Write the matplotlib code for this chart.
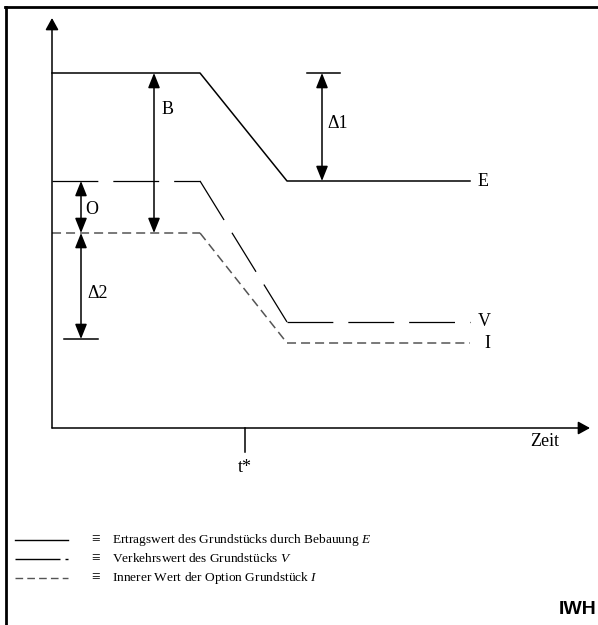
import matplotlib
matplotlib.use('Agg')
import matplotlib.pyplot as plt
from matplotlib.lines import Line2D

plt.rcParams['font.family'] = ['Liberation Serif', 'DejaVu Serif']
plt.rcParams['mathtext.fontset'] = 'custom'
plt.rcParams['mathtext.rm'] = 'Liberation Serif'
plt.rcParams['mathtext.it'] = 'Liberation Serif:italic'
plt.rcParams['lines.scale_dashes'] = False

# schematic values (time runs right from the value axis, value runs up)
t_knots = [0, 148, 235, 418]
E_vals = [355, 355, 247, 247]
V_vals = [247, 247, 106, 106]
I_vals = [195, 195, 85, 85]
t_star = 193
delta2_low = 89

legend_texts = ['Ertragswert des Grundstücks durch Bebauung $E$',
                'Verkehrswert des Grundstücks $V$',
                'Innerer Wert der Option Grundstück $I$']

fig = plt.figure(figsize=(5.98, 6.25), dpi=100)
ax = fig.add_axes([0, 0, 1, 1])
ax.set_xlim(-52, 546)
ax.set_ylim(-197, 428)
ax.axis('off')

# outer frame (top and left only)
fig.add_artist(Line2D([5 / 598, 1], [1 - 7 / 625, 1 - 7 / 625], transform=fig.transFigure, lw=2, color='black'))
fig.add_artist(Line2D([6 / 598, 6 / 598], [0, 1 - 7 / 625], transform=fig.transFigure, lw=2, color='black'))

axis_style = dict(arrowstyle='-|>,head_length=0.6,head_width=0.33', mutation_scale=12,
                  lw=1.1, color='black', shrinkA=0, shrinkB=0)
ax.annotate('', xy=(0, 410), xytext=(0, 0), arrowprops=axis_style)
ax.annotate('', xy=(538, 0), xytext=(0, 0), arrowprops=axis_style)

# curves, dash pattern restarts at every corner
ax.plot(t_knots, E_vals, color='black', lw=1.1)
for i in range(len(t_knots) - 1):
    ax.plot(t_knots[i:i + 2], V_vals[i:i + 2], color='black', lw=0.9, dashes=(33, 10.8))
    ax.plot(t_knots[i:i + 2], I_vals[i:i + 2], color='#555555', lw=1.1, dashes=(6.5, 3.6))

ax.text(t_knots[-1] + 8, E_vals[-1], 'E', fontsize=13, ha='left', va='center')
ax.text(t_knots[-1] + 8, V_vals[-1], 'V', fontsize=13, ha='left', va='center')
ax.text(t_knots[-1] + 14, I_vals[-1], 'I', fontsize=13, ha='left', va='center')

# t* marker
ax.plot([t_star, t_star], [0, -24], color='black', lw=1.1)
ax.text(t_star, -39, 't*', fontsize=13, ha='center', va='center')
ax.text(493, -14, 'Zeit', fontsize=13, ha='center', va='center')


def dim_arrow(x, y0, y1):
    ax.annotate('', xy=(x, y1), xytext=(x, y0),
                arrowprops=dict(arrowstyle='<|-|>,head_length=0.75,head_width=0.3', mutation_scale=12,
                                lw=1.1, color='black', shrinkA=0, shrinkB=0))


# B
dim_arrow(102, E_vals[0], I_vals[0])
ax.text(110, 318, 'B', fontsize=13, ha='left', va='center')
# delta 1
ax.plot([255, 288], [E_vals[0], E_vals[0]], color='black', lw=1.1)
dim_arrow(270, E_vals[0], E_vals[-1])
ax.text(275, 305, 'Δ1', fontsize=13, ha='left', va='center')
# O
dim_arrow(29, V_vals[0], I_vals[0])
ax.text(33, 219, 'O', fontsize=13, ha='left', va='center')
# delta 2
ax.plot([12, 46], [delta2_low, delta2_low], color='black', lw=1.1)
dim_arrow(29, I_vals[0], delta2_low)
ax.text(35, 135, 'Δ2', fontsize=13, ha='left', va='center')

# legend
rows = [-112, -131, -150]
ax.plot([-37, 16], [rows[0], rows[0]], color='black', lw=1.0)
ax.plot([-37, 16], [rows[1], rows[1]], color='black', lw=1.0, dashes=(32.4, 3.6))
ax.plot([-37, 16], [rows[2], rows[2]], color='#555555', lw=1.0, dashes=(5.5, 3))
for y, txt in zip(rows, legend_texts):
    ax.text(44, y, '≡', fontsize=11, ha='center', va='center')
    ax.text(60, y, txt, fontsize=9.6, ha='left', va='center')

ax.text(545, -181, 'IWH', fontsize=14, fontweight='bold', family='Liberation Sans', ha='right', va='center')

fig.savefig('out.png', dpi=100)
